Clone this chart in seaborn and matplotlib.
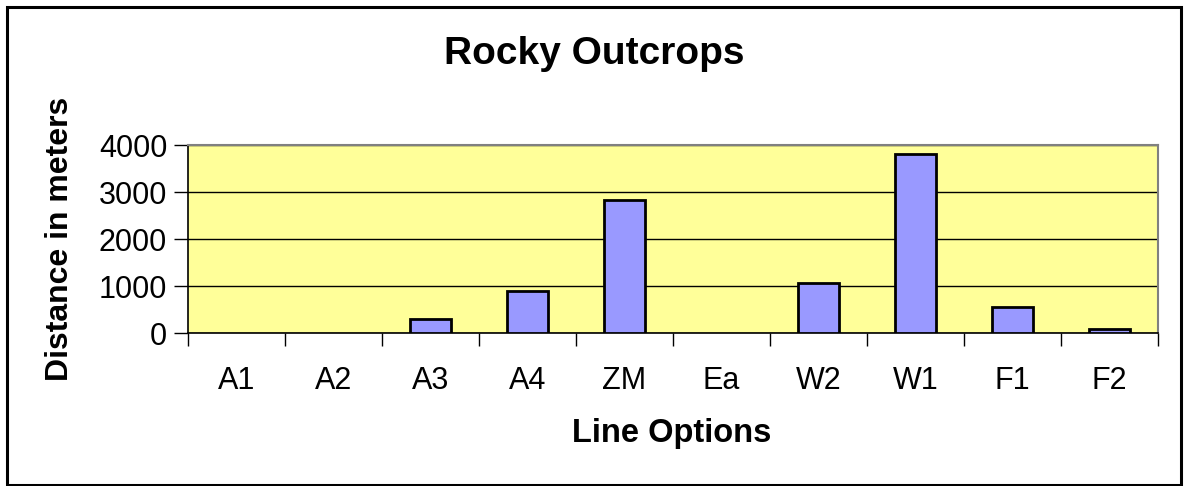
import matplotlib
matplotlib.use("Agg")
import matplotlib.pyplot as plt
import seaborn as sns
import pandas as pd
from matplotlib.patches import Rectangle

categories = ["A1", "A2", "A3", "A4", "ZM", "Ea", "W2", "W1", "F1", "F2"]
distances = [0, 0, 300, 900, 2840, 0, 1060, 3800, 555, 95]
y_ticks = [0, 1000, 2000, 3000, 4000]

sns.set_theme(style="white")
plt.rcParams["font.family"] = ["Liberation Sans", "DejaVu Sans"]
plt.rcParams["text.color"] = "black"
plt.rcParams["xtick.color"] = "black"
plt.rcParams["ytick.color"] = "black"

df = pd.DataFrame({"option": categories, "distance": distances})

W, H = 1187, 486
fig = plt.figure(figsize=(W / 100, H / 100), dpi=100)
fig.patch.set_facecolor("white")
ax = fig.add_axes([188 / W, 1 - 333 / H, (1158 - 188) / W, (333 - 145) / H])
ax.set_facecolor("#FFFF99")

sns.barplot(data=df, x="option", y="distance", order=categories,
            color="#9999FF", saturation=1, width=0.43,
            edgecolor="black", linewidth=2, ax=ax, zorder=3)

# empty categories show no outline
for patch in ax.patches:
    if patch.get_height() == 0:
        patch.set_linewidth(0)

ax.set_ylim(0, 4000)
ax.set_xlim(-0.5, len(categories) - 0.5)
ax.set_yticks(y_ticks)
ax.set_yticklabels([str(v) for v in y_ticks], fontsize=22)
ax.yaxis.grid(True, color="black", linewidth=1, zorder=1)
ax.set_axisbelow(True)

# category ticks sit on the boundaries between groups
ax.set_xticks([i - 0.5 for i in range(len(categories) + 1)], minor=False)
ax.set_xticklabels([])
ax.set_xticks(range(len(categories)), minor=True)
ax.set_xticklabels(categories, minor=True, fontsize=22)
ax.tick_params(axis="x", which="major", length=9, width=1, color="black",
               direction="out", bottom=True)
ax.tick_params(axis="x", which="minor", length=0, pad=24)
ax.tick_params(axis="y", length=10, width=1, color="black", direction="out",
               left=True, pad=5)

for side in ["left", "bottom"]:
    ax.spines[side].set_color("black")
    ax.spines[side].set_linewidth(1.2)
for side in ["top", "right"]:
    ax.spines[side].set_color("#808080")
    ax.spines[side].set_linewidth(1.5)

ax.set_xlabel("")
ax.set_ylabel("")

fig.text(594 / W, 1 - 54 / H, "Rocky Outcrops", ha="center", va="center",
         fontsize=28, fontweight="bold")
fig.text(672 / W, 1 - 433 / H, "Line Options", ha="center", va="center",
         fontsize=23.5, fontweight="bold")
fig.text(60 / W, 1 - 239 / H, "Distance in meters", ha="center", va="center",
         rotation=90, fontsize=23, fontweight="bold")

fig.add_artist(Rectangle((7 / W, 1 - 485 / H), (1181 - 7) / W, (485 - 7) / H,
                         transform=fig.transFigure, fill=False,
                         edgecolor="black", linewidth=2.2))

fig.savefig("out.png", dpi=100)
